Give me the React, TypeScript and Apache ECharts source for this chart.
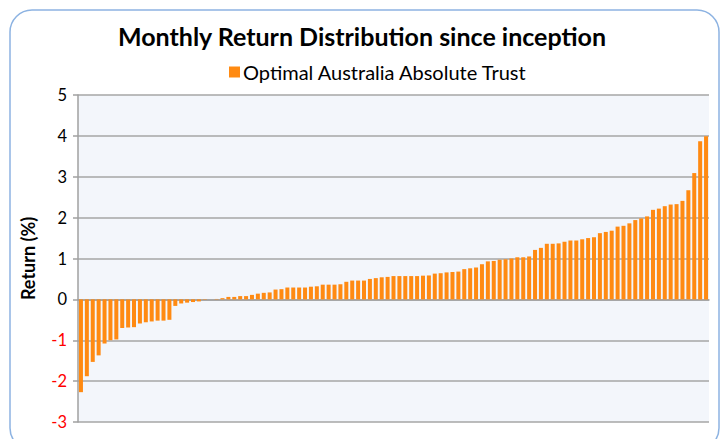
import React, { useEffect, useRef } from "react";
import * as echarts from "echarts";

// Monthly returns (%), sorted ascending
const negativeReturns = [
  -2.27, -1.88, -1.53, -1.37, -1.08, -1.0, -0.98, -0.7, -0.69, -0.68, -0.59,
  -0.56, -0.54, -0.52, -0.52, -0.5, -0.16, -0.1, -0.08, -0.065, -0.05,
];
const flatReturns = [-0.01, 0, 0.01];
const smallPositiveReturns = [
  0.03, 0.06, 0.06, 0.08, 0.08, 0.11, 0.14, 0.16, 0.17, 0.24, 0.25, 0.29, 0.29,
  0.29, 0.29, 0.31, 0.32, 0.36, 0.36, 0.36, 0.37, 0.43, 0.46, 0.46, 0.46,
];
const midPositiveReturns = [
  0.5, 0.52, 0.54, 0.55, 0.57, 0.57, 0.57, 0.57, 0.57, 0.58, 0.585, 0.63, 0.64,
  0.66, 0.67, 0.68, 0.74, 0.76, 0.78, 0.86, 0.93, 0.94, 0.97, 0.98, 1.0, 1.03,
  1.03, 1.05,
];
const highPositiveReturns = [
  1.21, 1.26, 1.36, 1.36, 1.37, 1.41, 1.44, 1.44, 1.47, 1.5, 1.52, 1.62, 1.65,
  1.68, 1.78, 1.8, 1.86, 1.94, 1.98, 2.03, 2.19, 2.22, 2.28, 2.32, 2.33, 2.41,
  2.67, 3.09, 3.87, 3.99,
];

const seriesName = "Optimal Australia Absolute Trust";
const titleText = "Monthly Return Distribution since inception";
const yAxisName = "Return (%)";
const yMin = -3;
const yMax = 5;
const yInterval = 1;

const returns = [
  ...negativeReturns,
  ...flatReturns,
  ...smallPositiveReturns,
  ...midPositiveReturns,
  ...highPositiveReturns,
];
const categories = returns.map((_, i) => String(i + 1));

export default function App() {
  const ref = useRef<HTMLDivElement>(null);

  useEffect(() => {
    if (!ref.current) return;
    const chart = echarts.init(ref.current, undefined, { renderer: "svg" });
    chart.setOption({
      animation: false,
      backgroundColor: "#ffffff",
      textStyle: { fontFamily: "Lato" },
      title: {
        text: titleText,
        left: "center",
        top: 18,
        textStyle: {
          fontFamily: "Lato",
          fontWeight: "bold",
          fontSize: 25,
          color: "#000000",
        },
      },
      legend: {
        data: [seriesName],
        top: 57,
        left: 224,
        icon: "rect",
        itemWidth: 11,
        itemHeight: 11,
        itemGap: 4,
        textStyle: { fontFamily: "Lato", fontSize: 20, color: "#000000", padding: [0, 0, 0, -2] },
      },
      grid: {
        left: 78,
        right: 15,
        top: 95,
        bottom: 17,
        show: true,
        backgroundColor: "#f3f6fb",
        borderWidth: 0,
      },
      xAxis: {
        type: "category",
        data: categories,
        axisLine: { show: true, onZero: true, lineStyle: { color: "#a0a0a0", width: 1.5 } },
        axisTick: { show: false },
        axisLabel: { show: false },
        splitLine: { show: false },
      },
      yAxis: {
        type: "value",
        min: yMin,
        max: yMax,
        interval: yInterval,
        name: yAxisName,
        nameLocation: "middle",
        nameRotate: 90,
        nameGap: 41,
        nameTextStyle: {
          fontFamily: "Lato",
          fontWeight: "bold",
          fontSize: 18,
          color: "#000000",
        },
        axisLine: { show: true, lineStyle: { color: "#a0a0a0", width: 1.5 } },
        axisTick: { show: true, length: 5, lineStyle: { color: "#a0a0a0", width: 1.5 } },
        axisLabel: {
          margin: 11,
          fontFamily: "Lato",
          fontSize: 16.5,
          formatter: (v: number) => (v < 0 ? `{neg|${v}}` : `{pos|${v}}`),
          rich: {
            neg: { color: "#ff0000", fontFamily: "Lato", fontSize: 16.5 },
            pos: { color: "#000000", fontFamily: "Lato", fontSize: 16.5 },
          },
        },
        splitLine: { show: true, lineStyle: { color: "#a6a6a6", width: 1.5 } },
      },
      series: [
        {
          name: seriesName,
          type: "bar",
          data: returns,
          barCategoryGap: "32%",
          itemStyle: { color: "#ff8a12" },
        },
      ],
      graphic: [
        {
          type: "rect",
          silent: true,
          shape: { x: 10, y: 10, width: 709, height: 440, r: 22 },
          style: { fill: "none", stroke: "#8db3e2", lineWidth: 1.5 },
          z: 100,
        },
      ],
    });
    return () => chart.dispose();
  }, []);

  return (
    <div
      ref={ref}
      style={{ position: "fixed", left: 0, top: 0, width: 724, height: 439 }}
    />
  );
}
